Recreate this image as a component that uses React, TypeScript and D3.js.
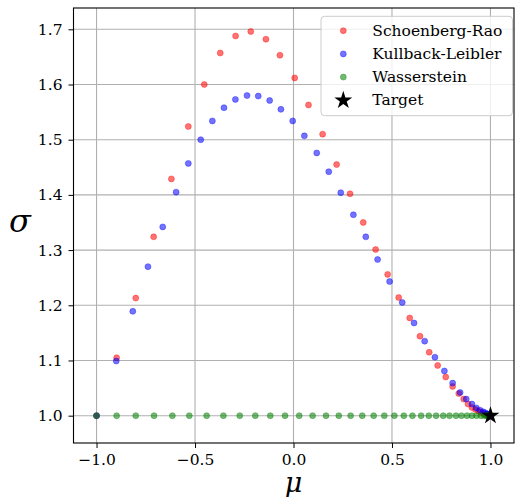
import { useRef, useEffect } from 'react';
import * as d3 from 'd3';

// Schoenberg-Rao iterates (mu, sigma)
const raoMu = [-1.0, -0.898, -0.801, -0.71, -0.62, -0.534, -0.453, -0.372, -0.294, -0.217, -0.14, -0.069, 0.006, 0.076, 0.148, 0.219, 0.287, 0.354, 0.417, 0.478, 0.534, 0.59, 0.642, 0.689, 0.732, 0.773, 0.808, 0.839, 0.864, 0.886, 0.906, 0.924, 0.94, 0.953, 0.964, 0.973, 0.98, 0.986];
const raoSigma = [1.0, 1.105, 1.213, 1.324, 1.429, 1.524, 1.6, 1.657, 1.688, 1.696, 1.682, 1.653, 1.612, 1.563, 1.51, 1.455, 1.402, 1.35, 1.301, 1.256, 1.214, 1.177, 1.144, 1.115, 1.091, 1.07, 1.053, 1.04, 1.03, 1.021, 1.015, 1.011, 1.008, 1.006, 1.004, 1.003, 1.002, 1.001];

// Kullback-Leibler iterates
const klMu = [-1.0, -0.9, -0.816, -0.739, -0.664, -0.596, -0.534, -0.471, -0.412, -0.353, -0.295, -0.236, -0.179, -0.121, -0.064, -0.004, 0.055, 0.118, 0.179, 0.24, 0.304, 0.367, 0.427, 0.488, 0.552, 0.612, 0.666, 0.718, 0.766, 0.808, 0.846, 0.877, 0.906, 0.928, 0.947, 0.963, 0.975, 0.984, 0.99];
const klSigma = [1.0, 1.099, 1.189, 1.27, 1.342, 1.405, 1.457, 1.5, 1.534, 1.558, 1.573, 1.58, 1.579, 1.571, 1.555, 1.534, 1.507, 1.476, 1.442, 1.404, 1.364, 1.324, 1.283, 1.243, 1.205, 1.168, 1.135, 1.106, 1.081, 1.059, 1.042, 1.03, 1.021, 1.014, 1.01, 1.007, 1.005, 1.003, 1.002];

// Wasserstein iterates (sigma stays at 1)
const wassMu = [-1.0, -0.898, -0.801, -0.708, -0.615, -0.529, -0.441, -0.356, -0.273, -0.194, -0.118, -0.043, 0.029, 0.097, 0.165, 0.23, 0.29, 0.349, 0.407, 0.461, 0.512, 0.56, 0.604, 0.648, 0.687, 0.724, 0.76, 0.792, 0.825, 0.853, 0.881, 0.906, 0.929, 0.952, 0.97, 0.98, 0.987, 0.992, 0.995, 0.997];
const wassSigma = [1.0, 1.0, 1.0, 1.0, 1.0, 1.0, 1.0, 1.0, 1.0, 1.0, 1.0, 1.0, 1.0, 1.0, 1.0, 1.0, 1.0, 1.0, 1.0, 1.0, 1.0, 1.0, 1.0, 1.0, 1.0, 1.0, 1.0, 1.0, 1.0, 1.0, 1.0, 1.0, 1.0, 1.0, 1.0, 1.0, 1.0, 1.0, 1.0, 1.0];

const target = [1.0, 1.0];

const xTicks = [-1.0, -0.5, 0.0, 0.5, 1.0];
const yTicks = [1.0, 1.1, 1.2, 1.3, 1.4, 1.5, 1.6, 1.7];

const seriesNames = ['Schoenberg-Rao', 'Kullback-Leibler', 'Wasserstein'];
const seriesColors = ['#ff0000', '#0000ff', '#008000'];

export default function App() {
  const svgRef = useRef<SVGSVGElement | null>(null);

  useEffect(() => {
    if (!svgRef.current) return;
    d3.select(svgRef.current).selectAll('*').remove();

    const width = 515;
    const height = 497;
    const font = "'DejaVu Serif', serif";

    const x = d3.scaleLinear().domain([-1.117, 1.1195]).range([73.5, 514]);
    const y = d3.scaleLinear().domain([0.9505, 1.7386]).range([443, 8]);

    const svg = d3.select(svgRef.current)
      .attr('width', width)
      .attr('height', height);

    svg.append('rect').attr('width', width).attr('height', height).attr('fill', '#fff');

    // grid
    const grid = svg.append('g');
    xTicks.forEach(t => {
      grid.append('line')
        .attr('x1', x(t)).attr('x2', x(t))
        .attr('y1', y.range()[0]).attr('y2', y.range()[1])
        .attr('stroke', '#b0b0b0').attr('stroke-width', 1.1);
    });
    yTicks.forEach(t => {
      grid.append('line')
        .attr('x1', x.range()[0]).attr('x2', x.range()[1])
        .attr('y1', y(t)).attr('y2', y(t))
        .attr('stroke', '#b0b0b0').attr('stroke-width', 1.1);
    });

    // points
    const series = [
      { mu: raoMu, sigma: raoSigma },
      { mu: klMu, sigma: klSigma },
      { mu: wassMu, sigma: wassSigma },
    ];
    series.forEach((s, i) => {
      const pts = s.mu.map((m, j) => [m, s.sigma[j]]);
      svg.append('g')
        .selectAll('circle')
        .data(pts)
        .enter()
        .append('circle')
        .attr('cx', d => x(d[0]))
        .attr('cy', d => y(d[1]))
        .attr('r', 3)
        .attr('fill', seriesColors[i])
        .attr('fill-opacity', 0.55)
        .attr('stroke', seriesColors[i])
        .attr('stroke-opacity', 0.35)
        .attr('stroke-width', 1);
    });

    // target star
    const star = d3.symbol().type(d3.symbolStar).size(100);
    svg.append('path')
      .attr('d', star()!)
      .attr('transform', `translate(${x(target[0])},${y(target[1])})`)
      .attr('fill', '#000');

    // axes
    const xAxis = svg.append('g')
      .attr('transform', `translate(0,${y.range()[0]})`)
      .call(d3.axisBottom(x).tickValues(xTicks).tickFormat(d3.format('.1f')).tickSize(5).tickPadding(6).tickSizeOuter(0));
    const yAxis = svg.append('g')
      .attr('transform', `translate(${x.range()[0]},0)`)
      .call(d3.axisLeft(y).tickValues(yTicks).tickFormat(d3.format('.1f')).tickSize(5).tickPadding(6).tickSizeOuter(0));
    [xAxis, yAxis].forEach(a => {
      a.attr('font-family', null).attr('font-size', null);
      a.select('.domain').remove();
      a.selectAll('text').style('font-family', font).style('font-size', '15.5px').attr('fill', '#000');
      a.selectAll('line').attr('stroke', '#000').attr('stroke-width', 1);
    });

    // spines
    svg.append('rect')
      .attr('x', x.range()[0]).attr('y', y.range()[1])
      .attr('width', x.range()[1] - x.range()[0])
      .attr('height', y.range()[0] - y.range()[1])
      .attr('fill', 'none').attr('stroke', '#000').attr('stroke-width', 1.1);

    // axis labels
    svg.append('text')
      .attr('x', 293.5).attr('y', 492)
      .attr('text-anchor', 'middle')
      .style('font-family', font).style('font-style', 'italic').style('font-size', '27px')
      .text('μ');
    svg.append('text')
      .attr('x', 20).attr('y', 232)
      .attr('text-anchor', 'middle')
      .style('font-family', font).style('font-style', 'italic').style('font-size', '32px')
      .text('σ');

    // legend
    const legend = svg.append('g');
    legend.append('rect')
      .attr('x', 321).attr('y', 16.3)
      .attr('width', 191.5).attr('height', 99.4)
      .attr('rx', 3.5)
      .attr('fill', '#fff').attr('fill-opacity', 0.8)
      .attr('stroke', '#cccccc').attr('stroke-width', 1);
    const rowY = (i: number) => 30.7 + i * 23.2;
    seriesNames.forEach((name, i) => {
      legend.append('circle')
        .attr('cx', 343.3).attr('cy', rowY(i)).attr('r', 3)
        .attr('fill', seriesColors[i]).attr('fill-opacity', 0.55)
        .attr('stroke', seriesColors[i]).attr('stroke-opacity', 0.35);
      legend.append('text')
        .attr('x', 372.3).attr('y', rowY(i))
        .attr('dominant-baseline', 'central')
        .style('font-family', font).style('font-size', '15.5px')
        .text(name);
    });
    legend.append('path')
      .attr('d', star()!)
      .attr('transform', `translate(343.3,${rowY(3)})`)
      .attr('fill', '#000');
    legend.append('text')
      .attr('x', 372.3).attr('y', rowY(3))
      .attr('dominant-baseline', 'central')
      .style('font-family', font).style('font-size', '15.5px')
      .text('Target');
  }, []);

  return (
    <svg ref={svgRef} style={{ position: 'absolute', left: 0, top: 0 }} />
  );
}
